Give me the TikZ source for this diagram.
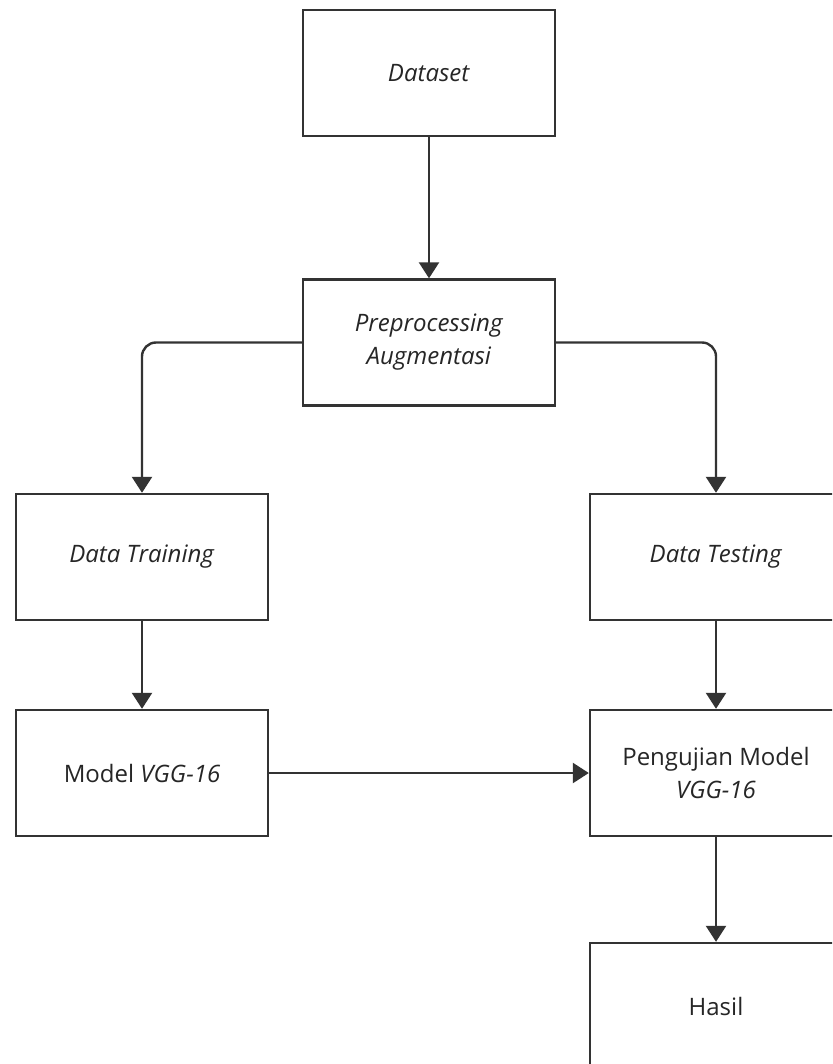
\documentclass[tikz,border=0pt]{standalone}
\usepackage{fontspec}
\setmainfont{Open Sans}
\usetikzlibrary{arrows.meta}
\begin{document}
\begin{tikzpicture}[x=1pt, y=-1pt,
  box/.style={draw=black!80, line width=2.4pt, fill=white, minimum width=252pt, minimum height=126pt, align=center, font=\fontsize{24}{33}\selectfont, text=black!85},
  flow/.style={draw=black!80, line width=2.4pt, -{Triangle[width=20pt,length=16pt]}}]
\clip (0,0) rectangle (832,1064);
\fill[white] (0,0) rectangle (832,1064);
\node[box] (dataset) at (429,73){\textit{Dataset}};
\node[box] (prep) at (429,342.5){\textit{Preprocessing}\\\textit{Augmentasi}};
\node[box] (train) at (142,557){\textit{Data Training}};
\node[box] (test) at (716,557){\textit{Data Testing}};
\node[box] (model) at (142,773){Model \textit{VGG-16}};
\node[box] (uji) at (716,773){Pengujian Model\\\textit{VGG-16}};
\node[box] (hasil) at (716,1006){Hasil};
\draw[flow](dataset) -- (prep);
\draw[flow, rounded corners=14pt](prep.west) -| (train.north);
\draw[flow, rounded corners=14pt](prep.east) -| (test.north);
\draw[flow](train) -- (model);
\draw[flow](test) -- (uji);
\draw[flow](model) -- (uji);
\draw[flow](uji) -- (hasil);
\end{tikzpicture}
\end{document}
